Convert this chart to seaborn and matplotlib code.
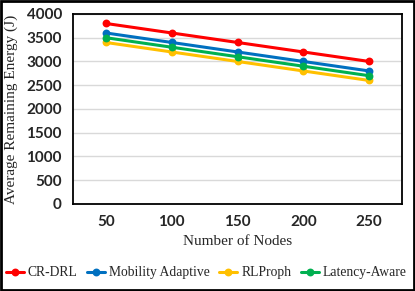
import pandas as pd
import matplotlib
matplotlib.use('Agg')
import matplotlib.pyplot as plt
from matplotlib.patches import Rectangle
import seaborn as sns

# Datos
nodes = [50, 100, 150, 200, 250]
cr_drl = [3800, 3600, 3400, 3200, 3000]
mobility_adaptive = [3600, 3400, 3200, 3000, 2800]
rlproph = [3400, 3200, 3000, 2800, 2600]
latency_aware = [3500, 3300, 3100, 2900, 2700]

series = {
    'CR-DRL': cr_drl,
    'Mobility Adaptive': mobility_adaptive,
    'RLProph': rlproph,
    'Latency-Aware': latency_aware,
}
colors = ['#ff0000', '#0070c0', '#ffc000', '#00b050']

rows = []
for name, vals in series.items():
    for n, v in zip(nodes, vals):
        rows.append({'Nodes': str(n), 'Energy': v, 'Method': name})
df = pd.DataFrame(rows)

sns.set_theme(style='white')
plt.rcParams['font.family'] = ['Liberation Serif', 'DejaVu Serif']

fig = plt.figure(figsize=(4.15, 2.91), dpi=100)
ax = fig.add_axes([0.176, 0.299, 0.793, 0.653])

sns.pointplot(data=df, x='Nodes', y='Energy', hue='Method', palette=colors,
              markers='o', markersize=4, linewidth=2.2, ax=ax, legend=True)

ax.set_ylim(0, 4000)
ax.set_yticks(range(0, 4001, 500))
ax.yaxis.grid(True, color='#d9d9d9', linewidth=1)
ax.set_axisbelow(True)
for s in ax.spines.values():
    s.set_color('black')
    s.set_linewidth(1.3)

for lab in ax.get_xticklabels() + ax.get_yticklabels():
    lab.set_fontfamily('Lato')
    lab.set_fontweight('bold')
    lab.set_fontsize(11)
ax.tick_params(axis='both', length=0, pad=8)

ax.set_xlabel('Number of Nodes', fontsize=11, labelpad=4)
ax.set_ylabel('Average Remaining Energy (J)', fontsize=11, labelpad=6)

ax.legend(loc='upper center', bbox_to_anchor=(0.405, -0.30), ncol=4, frameon=False,
          fontsize=9.8, handlelength=1.3, handletextpad=0.3, columnspacing=0.7,
          borderaxespad=0)

fig.add_artist(Rectangle((0.003, 0.004), 0.994, 0.992, transform=fig.transFigure,
                         fill=False, edgecolor='black', linewidth=2))

fig.savefig('out.png', dpi=100)
